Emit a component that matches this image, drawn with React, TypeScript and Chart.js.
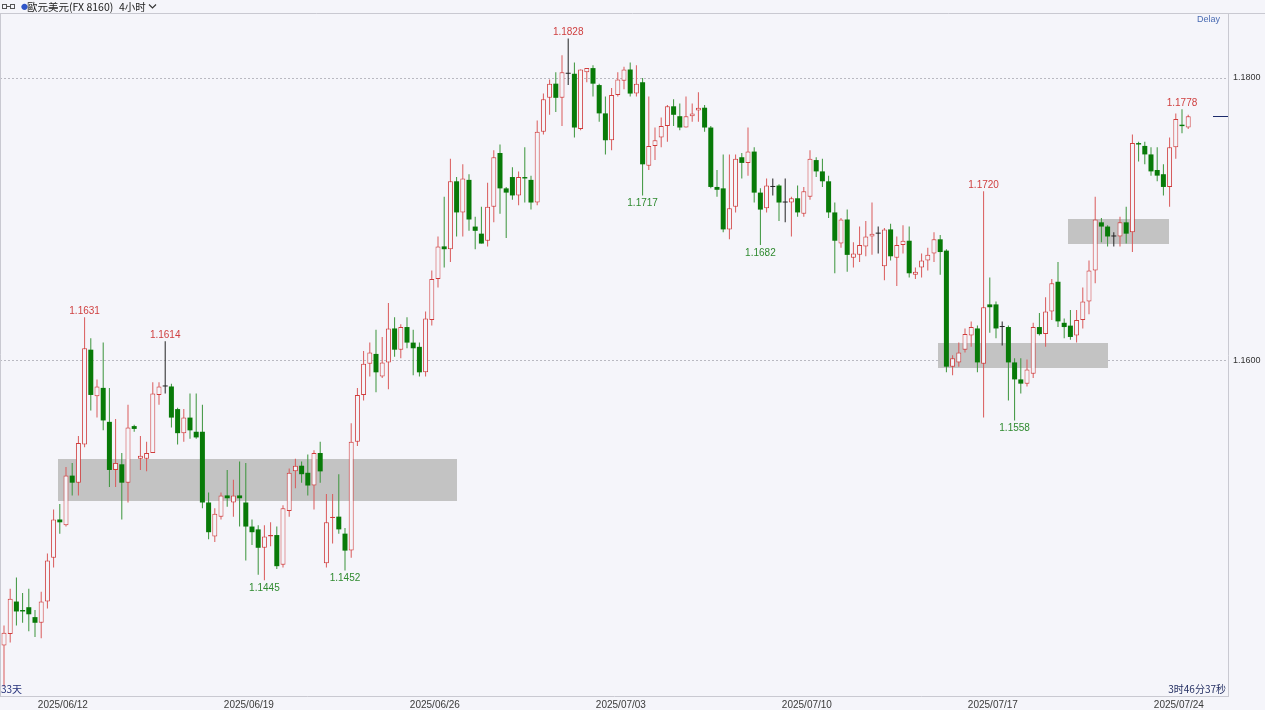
import React, { useEffect, useRef } from "react";
import { Chart, registerables } from "chart.js";

Chart.register(...registerables);

// EUR/USD (FX 8160), 4-hour candles
const opens = [
  1.1399, 1.1407, 1.1430, 1.1424, 1.1426, 1.1419, 1.1415, 1.1430, 1.1461, 1.1488,
  1.1484, 1.1519, 1.1514, 1.1541, 1.1608, 1.1575, 1.1581, 1.1557, 1.1523, 1.1527,
  1.1514, 1.1554, 1.1531, 1.1531, 1.1535, 1.1576, 1.1582, 1.1582, 1.1566, 1.1549,
  1.1560, 1.1550, 1.1550, 1.1500, 1.1476, 1.1490, 1.1505, 1.1500, 1.1505, 1.1500,
  1.1483, 1.1481, 1.1468, 1.1476, 1.1477, 1.1456, 1.1494, 1.1522, 1.1526, 1.1521,
  1.1512, 1.1535, 1.1457, 1.1489, 1.1490, 1.1478, 1.1466, 1.1543, 1.1576, 1.1598,
  1.1605, 1.1589, 1.1599, 1.1623, 1.1608, 1.1624, 1.1613, 1.1610, 1.1592, 1.1629,
  1.1658, 1.1681, 1.1679, 1.1727, 1.1705, 1.1728, 1.1695, 1.1690, 1.1685, 1.1709,
  1.1747, 1.1722, 1.1730, 1.1717, 1.1730, 1.1728, 1.1712, 1.1762, 1.1786, 1.1796,
  1.1786, 1.1803, 1.1803, 1.1764, 1.1804, 1.1807, 1.1795, 1.1775, 1.1756, 1.1788,
  1.1798, 1.1806, 1.1789, 1.1797, 1.1738, 1.1752, 1.1758, 1.1766, 1.1780, 1.1773,
  1.1765, 1.1773, 1.1777, 1.1779, 1.1765, 1.1723, 1.1722, 1.1693, 1.1709, 1.1744,
  1.1740, 1.1748, 1.1719, 1.1708, 1.1723, 1.1724, 1.1712, 1.1712, 1.1715, 1.1704,
  1.1716, 1.1742, 1.1734, 1.1727, 1.1705, 1.1683, 1.1700, 1.1673, 1.1675, 1.1681,
  1.1688, 1.1690, 1.1667, 1.1693, 1.1673, 1.1682, 1.1685, 1.1661, 1.1666, 1.1671,
  1.1676, 1.1686, 1.1678, 1.1596, 1.1599, 1.1608, 1.1618, 1.1623, 1.1598, 1.1640,
  1.1640, 1.1624, 1.1624, 1.1599, 1.1587, 1.1584, 1.1591, 1.1624, 1.1619, 1.1635,
  1.1656, 1.1627, 1.1625, 1.1618, 1.1629, 1.1642, 1.1664, 1.1698, 1.1695, 1.1688,
  1.1688, 1.1698, 1.1691, 1.1754, 1.1752, 1.1746, 1.1735, 1.1732, 1.1723, 1.1751,
  1.1767, 1.1765,
];

const highs = [
  1.1413, 1.1439, 1.1447, 1.1436, 1.1439, 1.1424, 1.1437, 1.1464, 1.1495, 1.1499,
  1.1525, 1.1528, 1.1547, 1.1631, 1.1616, 1.1587, 1.1613, 1.1581, 1.1559, 1.1535,
  1.1569, 1.1555, 1.1547, 1.1543, 1.1585, 1.1585, 1.1614, 1.1584, 1.1567, 1.1566,
  1.1577, 1.1577, 1.1569, 1.1507, 1.1496, 1.1507, 1.1523, 1.1516, 1.1529, 1.1528,
  1.1488, 1.1484, 1.1484, 1.1486, 1.1483, 1.1498, 1.1524, 1.1531, 1.1529, 1.1534,
  1.1537, 1.1543, 1.1506, 1.1506, 1.1520, 1.1482, 1.1556, 1.1581, 1.1607, 1.1613,
  1.1622, 1.1617, 1.1641, 1.1631, 1.1626, 1.1631, 1.1622, 1.1613, 1.1635, 1.1664,
  1.1688, 1.1716, 1.1743, 1.1730, 1.1739, 1.1732, 1.1702, 1.1709, 1.1726, 1.1749,
  1.1753, 1.1723, 1.1737, 1.1734, 1.1751, 1.1731, 1.1770, 1.1789, 1.1799, 1.1804,
  1.1816, 1.1828, 1.1811, 1.1806, 1.1807, 1.1809, 1.1796, 1.1787, 1.1793, 1.1804,
  1.1808, 1.1811, 1.1809, 1.1800, 1.1787, 1.1765, 1.1772, 1.1781, 1.1785, 1.1782,
  1.1787, 1.1782, 1.1790, 1.1781, 1.1766, 1.1735, 1.1746, 1.1746, 1.1746, 1.1747,
  1.1765, 1.1751, 1.1722, 1.1729, 1.1729, 1.1725, 1.1729, 1.1716, 1.1724, 1.1723,
  1.1749, 1.1744, 1.1743, 1.1731, 1.1712, 1.1701, 1.1707, 1.1684, 1.1695, 1.1699,
  1.1712, 1.1695, 1.1694, 1.1697, 1.1688, 1.1696, 1.1695, 1.1666, 1.1676, 1.1680,
  1.1691, 1.1689, 1.1679, 1.1604, 1.1613, 1.1623, 1.1628, 1.1625, 1.1720, 1.1659,
  1.1642, 1.1628, 1.1625, 1.1602, 1.1602, 1.1601, 1.1627, 1.1634, 1.1645, 1.1658,
  1.1670, 1.1630, 1.1636, 1.1636, 1.1652, 1.1671, 1.1716, 1.1701, 1.1696, 1.1691,
  1.1702, 1.1709, 1.1760, 1.1755, 1.1755, 1.1751, 1.1751, 1.1739, 1.1758, 1.1775,
  1.1778, 1.1774,
];

const lows = [
  1.1370, 1.1401, 1.1413, 1.1415, 1.1409, 1.1405, 1.1404, 1.1425, 1.1454, 1.1478,
  1.1483, 1.1505, 1.1505, 1.1539, 1.1565, 1.1560, 1.1551, 1.1511, 1.1511, 1.1488,
  1.1500, 1.1550, 1.1523, 1.1522, 1.1535, 1.1569, 1.1577, 1.1553, 1.1541, 1.1543,
  1.1545, 1.1545, 1.1496, 1.1474, 1.1472, 1.1488, 1.1497, 1.1490, 1.1483, 1.1459,
  1.1470, 1.1449, 1.1445, 1.1469, 1.1453, 1.1454, 1.1490, 1.1510, 1.1514, 1.1505,
  1.1495, 1.1514, 1.1454, 1.1471, 1.1478, 1.1452, 1.1461, 1.1540, 1.1572, 1.1589,
  1.1578, 1.1588, 1.1580, 1.1603, 1.1602, 1.1609, 1.1590, 1.1589, 1.1589, 1.1625,
  1.1652, 1.1666, 1.1670, 1.1688, 1.1688, 1.1692, 1.1679, 1.1683, 1.1681, 1.1698,
  1.1704, 1.1687, 1.1714, 1.1710, 1.1712, 1.1707, 1.1710, 1.1760, 1.1774, 1.1776,
  1.1766, 1.1795, 1.1758, 1.1763, 1.1797, 1.1787, 1.1769, 1.1746, 1.1749, 1.1787,
  1.1792, 1.1787, 1.1787, 1.1717, 1.1735, 1.1742, 1.1751, 1.1755, 1.1766, 1.1763,
  1.1765, 1.1769, 1.1769, 1.1762, 1.1722, 1.1716, 1.1691, 1.1686, 1.1705, 1.1729,
  1.1731, 1.1712, 1.1682, 1.1705, 1.1717, 1.1699, 1.1698, 1.1688, 1.1702, 1.1702,
  1.1714, 1.1730, 1.1723, 1.1701, 1.1662, 1.1680, 1.1663, 1.1666, 1.1670, 1.1674,
  1.1675, 1.1676, 1.1657, 1.1671, 1.1653, 1.1676, 1.1659, 1.1658, 1.1659, 1.1664,
  1.1670, 1.1661, 1.1592, 1.1590, 1.1596, 1.1606, 1.1610, 1.1592, 1.1560, 1.1620,
  1.1616, 1.1611, 1.1572, 1.1558, 1.1577, 1.1582, 1.1588, 1.1618, 1.1610, 1.1629,
  1.1624, 1.1616, 1.1615, 1.1613, 1.1623, 1.1633, 1.1655, 1.1684, 1.1681, 1.1681,
  1.1681, 1.1683, 1.1677, 1.1741, 1.1739, 1.1731, 1.1727, 1.1717, 1.1709, 1.1743,
  1.1761, 1.1764,
];

const closes = [
  1.1408, 1.1432, 1.1423, 1.1423, 1.1421, 1.1415, 1.1430, 1.1459, 1.1488, 1.1486,
  1.1519, 1.1514, 1.1542, 1.1609, 1.1576, 1.1582, 1.1558, 1.1523, 1.1528, 1.1514,
  1.1553, 1.1552, 1.1533, 1.1535, 1.1577, 1.1582, 1.1582, 1.1560, 1.1549, 1.1560,
  1.1551, 1.1546, 1.1500, 1.1479, 1.1492, 1.1505, 1.1503, 1.1505, 1.1503, 1.1483,
  1.1479, 1.1468, 1.1476, 1.1477, 1.1455, 1.1496, 1.1521, 1.1526, 1.1520, 1.1512,
  1.1535, 1.1522, 1.1486, 1.1490, 1.1481, 1.1466, 1.1543, 1.1576, 1.1598, 1.1606,
  1.1592, 1.1599, 1.1623, 1.1608, 1.1624, 1.1613, 1.1609, 1.1592, 1.1630, 1.1658,
  1.1681, 1.1679, 1.1727, 1.1705, 1.1729, 1.1700, 1.1692, 1.1683, 1.1709, 1.1744,
  1.1722, 1.1719, 1.1717, 1.1730, 1.1729, 1.1712, 1.1762, 1.1785, 1.1796, 1.1786,
  1.1804, 1.1803, 1.1765, 1.1806, 1.1807, 1.1796, 1.1775, 1.1756, 1.1788, 1.1799,
  1.1806, 1.1789, 1.1796, 1.1739, 1.1752, 1.1756, 1.1766, 1.1780, 1.1774, 1.1765,
  1.1773, 1.1775, 1.1779, 1.1765, 1.1723, 1.1721, 1.1693, 1.1708, 1.1743, 1.1740,
  1.1748, 1.1719, 1.1707, 1.1724, 1.1723, 1.1712, 1.1712, 1.1715, 1.1705, 1.1720,
  1.1743, 1.1734, 1.1727, 1.1705, 1.1685, 1.1700, 1.1675, 1.1676, 1.1682, 1.1688,
  1.1690, 1.1690, 1.1693, 1.1674, 1.1682, 1.1685, 1.1662, 1.1663, 1.1671, 1.1675,
  1.1686, 1.1677, 1.1596, 1.1602, 1.1606, 1.1619, 1.1624, 1.1599, 1.1638, 1.1638,
  1.1623, 1.1624, 1.1599, 1.1587, 1.1584, 1.1594, 1.1624, 1.1619, 1.1635, 1.1655,
  1.1628, 1.1624, 1.1617, 1.1629, 1.1642, 1.1664, 1.1700, 1.1695, 1.1688, 1.1688,
  1.1698, 1.1690, 1.1754, 1.1753, 1.1746, 1.1734, 1.1731, 1.1723, 1.1751, 1.1771,
  1.1766, 1.1773,
];

// First candle index of each labelled trading day
const dayTickIndex = [10, 40, 70, 100, 130, 160, 190];
const dayTickLabels = [
  "2025/06/12", "2025/06/19", "2025/06/26", "2025/07/03",
  "2025/07/10", "2025/07/17", "2025/07/24",
];
const priceTicks = [1.16, 1.18];

// Candles whose high / low is annotated
const highMarks = [13, 26, 91, 158, 190];
const lowMarks = [42, 55, 103, 122, 163];

// Consolidation zones (candle index span, price band)
const zoneFrom = [8.7, 150.6, 171.6];
const zoneTo = [73.1, 178.1, 187.9];
const zoneTop = [1.1531, 1.1613, 1.17];
const zoneBottom = [1.1501, 1.1595, 1.1683];

// Visible window
const X_MIN = -0.645;
const X_MAX = 197.42;
const Y_MIN = 1.136325;
const Y_MAX = 1.184523;

const BG = "#f5f5fa";
const UP_LINE = "#d03c3c";
const UP_WICK = "#da5a5a";
const DOWN_FILL = "#087a08";
const DOWN_WICK = "#3a943a";
const FLAT = "#222222";
const ZONE = "#c3c3c3";
const HIGH_TXT = "#cf3f3f";
const LOW_TXT = "#2f8a2f";
const FRAME = "#c9c9d1";

const idx = opens.map((_, i) => i);
const dir = (i: number) => Math.sign(closes[i] - opens[i]);

const decorPlugin = {
  id: "candleDecor",
  beforeDraw(chart: any) {
    const { ctx, width, height } = chart;
    ctx.save();
    ctx.fillStyle = BG;
    ctx.fillRect(0, 0, width, height);
    ctx.restore();
  },
  beforeDatasetsDraw(chart: any) {
    const { ctx, chartArea, scales } = chart;
    const xs = scales.x;
    const ys = scales.y;
    ctx.save();
    ctx.beginPath();
    ctx.rect(chartArea.left, chartArea.top, chartArea.right - chartArea.left, chartArea.bottom - chartArea.top);
    ctx.clip();
    ctx.fillStyle = ZONE;
    for (let k = 0; k < zoneFrom.length; k++) {
      const x0 = Math.round(xs.getPixelForValue(zoneFrom[k]));
      const x1 = Math.round(xs.getPixelForValue(zoneTo[k]));
      const y0 = Math.round(ys.getPixelForValue(zoneTop[k]));
      const y1 = Math.round(ys.getPixelForValue(zoneBottom[k]));
      ctx.fillRect(x0, y0, x1 - x0, y1 - y0);
    }
    ctx.restore();
  },
  afterDatasetsDraw(chart: any) {
    const { ctx, chartArea, scales } = chart;
    const xs = scales.x;
    const ys = scales.y;
    ctx.save();
    ctx.font = '10px "Liberation Sans", Arial, sans-serif';
    ctx.textAlign = "center";
    ctx.textBaseline = "alphabetic";
    ctx.fillStyle = HIGH_TXT;
    highMarks.forEach((i) => {
      ctx.fillText(highs[i].toFixed(4), xs.getPixelForValue(i), ys.getPixelForValue(highs[i]) - 3);
    });
    ctx.fillStyle = LOW_TXT;
    lowMarks.forEach((i) => {
      ctx.fillText(lows[i].toFixed(4), xs.getPixelForValue(i), ys.getPixelForValue(lows[i]) + 11);
    });

    // last price marker on the price axis edge
    const yp = Math.round(ys.getPixelForValue(closes[closes.length - 1])) + 0.5;
    ctx.strokeStyle = "#1b2a6b";
    ctx.lineWidth = 1;
    ctx.beginPath();
    ctx.moveTo(chartArea.right - 15, yp);
    ctx.lineTo(chartArea.right, yp);
    ctx.stroke();

    // header separator and left frame
    ctx.strokeStyle = FRAME;
    ctx.beginPath();
    ctx.moveTo(0, 13.5);
    ctx.lineTo(chart.width, 13.5);
    ctx.moveTo(0.5, 13.5);
    ctx.lineTo(0.5, chartArea.bottom);
    ctx.stroke();
    ctx.restore();
  },
};

export default function App() {
  const canvasRef = useRef<HTMLCanvasElement | null>(null);

  useEffect(() => {
    const canvas = canvasRef.current;
    if (!canvas) return;
    const chart = new Chart(canvas, {
      type: "bar",
      data: {
        datasets: [
          {
            label: "body",
            data: idx.map((i) => ({ x: i, y: [opens[i], closes[i]] })),
            backgroundColor: idx.map((i) => (dir(i) > 0 ? BG : dir(i) < 0 ? DOWN_FILL : FLAT)),
            borderColor: idx.map((i) => (dir(i) > 0 ? UP_LINE : dir(i) < 0 ? DOWN_FILL : FLAT)),
            borderWidth: idx.map((i) => (dir(i) > 0 ? 1 : 0)),
            borderSkipped: false,
            inflateAmount: 0,
            barThickness: 5,
            minBarLength: 1,
            grouped: false,
            order: 0,
          } as any,
          {
            label: "wick",
            data: idx.map((i) => ({ x: i, y: [lows[i], highs[i]] })),
            backgroundColor: idx.map((i) => (dir(i) > 0 ? UP_WICK : dir(i) < 0 ? DOWN_WICK : FLAT)),
            borderWidth: 0,
            inflateAmount: 0,
            barThickness: 1,
            grouped: false,
            order: 1,
          } as any,
        ],
      },
      options: {
        responsive: false,
        animation: false,
        devicePixelRatio: 1,
        events: [],
        layout: { padding: { top: 14, left: 0, right: 0, bottom: 0 } },
        plugins: {
          legend: { display: false },
          tooltip: { enabled: false },
        },
        scales: {
          x: {
            type: "linear",
            min: X_MIN,
            max: X_MAX,
            offset: false,
            grid: { display: false, drawTicks: false, offset: false },
            border: { display: true, color: FRAME },
            afterBuildTicks: (scale: any) => {
              scale.ticks = dayTickIndex.map((d) => ({ value: d - 0.5 }));
            },
            afterFit: (scale: any) => {
              scale.height = 14;
            },
            ticks: {
              autoSkip: false,
              maxRotation: 0,
              minRotation: 0,
              padding: 3,
              color: "#3a3a3a",
              font: { family: '"Liberation Sans", Arial, sans-serif', size: 10 },
              callback: (_v: any, k: number) => dayTickLabels[k],
            },
          },
          y: {
            type: "linear",
            position: "right",
            min: Y_MIN,
            max: Y_MAX,
            grid: { color: "#b9b9c1", lineWidth: 1, drawTicks: false },
            border: { display: true, color: FRAME, dash: [2, 2] },
            afterBuildTicks: (scale: any) => {
              scale.ticks = priceTicks.map((v) => ({ value: v }));
            },
            afterFit: (scale: any) => {
              scale.width = 37;
            },
            ticks: {
              padding: 5,
              color: "#333333",
              font: { family: '"Liberation Sans", Arial, sans-serif', size: 9 },
              callback: (v: any) => Number(v).toFixed(4),
            },
          },
        },
      } as any,
      plugins: [decorPlugin],
    });
    return () => chart.destroy();
  }, []);

  const cjk = '"Noto Sans CJK SC", "Noto Sans CJK TC", "Liberation Sans", sans-serif';
  const headerText = {
    position: "absolute" as const,
    top: 0,
    fontFamily: cjk,
    fontSize: 10.5,
    lineHeight: "13px",
    color: "#222",
    whiteSpace: "nowrap" as const,
  };

  return (
    <div style={{ position: "absolute", left: 0, top: 0, width: 1265, height: 710, background: BG, overflow: "hidden" }}>
      <canvas
        ref={canvasRef}
        width={1265}
        height={710}
        style={{ position: "absolute", left: 0, top: 0, width: 1265, height: 710 }}
      />
      <svg width="15" height="13" style={{ position: "absolute", left: 1, top: 0 }}>
        <rect x="1.5" y="4.5" width="4" height="4" fill="none" stroke="#555" />
        <rect x="9.5" y="4.5" width="4" height="4" fill="none" stroke="#555" />
        <line x1="5.5" y1="6.5" x2="9.5" y2="6.5" stroke="#555" />
      </svg>
      <span style={{ ...headerText, left: 21, fontSize: 7, color: "#2f55c8" }}>●</span>
      <span style={{ ...headerText, left: 27 }}>歐元美元(FX 8160)</span>
      <span style={{ ...headerText, left: 119 }}>4小时</span>
      <svg width="9" height="13" style={{ position: "absolute", left: 148, top: 0 }}>
        <polyline points="1,4.5 4.5,8 8,4.5" fill="none" stroke="#333" strokeWidth="1.1" />
      </svg>
      <div
        style={{
          position: "absolute",
          left: 1197,
          top: 14,
          fontFamily: '"Liberation Sans", Arial, sans-serif',
          fontSize: 9,
          lineHeight: "11px",
          color: "#4a6cb3",
        }}
      >
        Delay
      </div>
      <div
        style={{
          position: "absolute",
          left: 1,
          top: 683,
          fontFamily: cjk,
          fontSize: 10,
          lineHeight: "12px",
          color: "#25317a",
        }}
      >
        33天
      </div>
      <div
        style={{
          position: "absolute",
          right: 39,
          top: 683,
          fontFamily: cjk,
          fontSize: 10,
          lineHeight: "12px",
          color: "#1f2a5f",
        }}
      >
        3时46分37秒
      </div>
    </div>
  );
}
